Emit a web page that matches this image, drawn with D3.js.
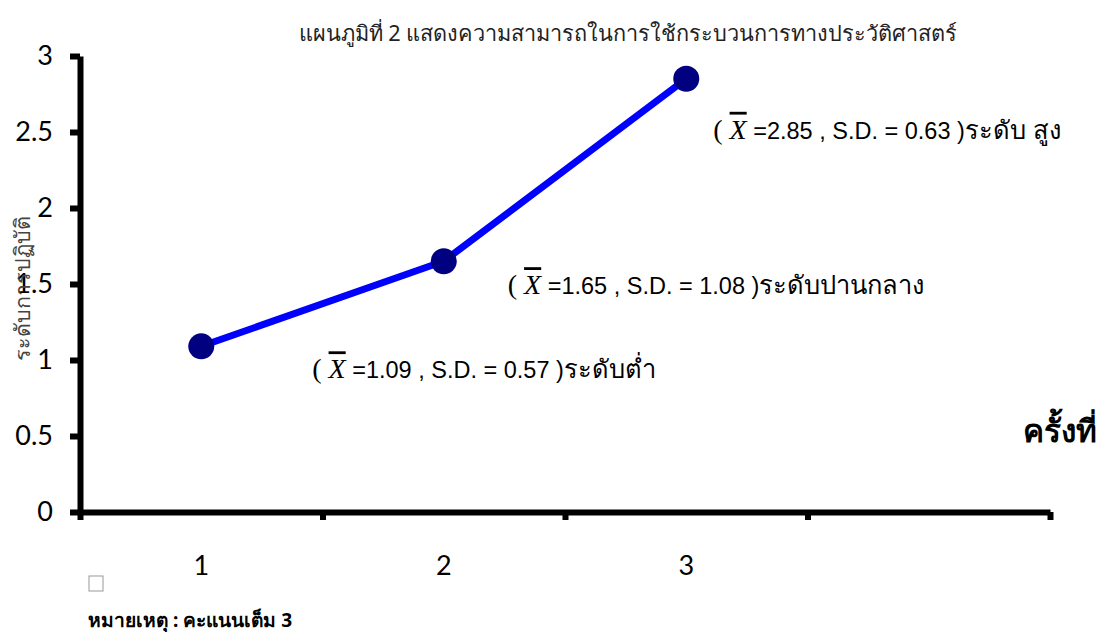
<!DOCTYPE html>
<html><head><meta charset="utf-8">
<script src="https://cdn.jsdelivr.net/npm/d3@7"></script>
<style>body{margin:0;background:#fff;} svg{display:block;}</style>
</head><body><div id="chart"></div>
<script>
const categories = ["1", "2", "3", ""];
const means = [1.09, 1.65, 2.85];
const sds = [0.57, 1.08, 0.63];
const levels = ["ระดับต่ำ", "ระดับปานกลาง", "ระดับ สูง"];
const yTicks = [0, 0.5, 1, 1.5, 2, 2.5, 3];
const title = "แผนภูมิที่ 2 แสดงความสามารถในการใช้กระบวนการทางประวัติศาสตร์";
const yTitle = "ระดับการปฏิบัติ";
const xTitle = "ครั้งที่";
const note = "หมายเหตุ : คะแนนเต็ม  3";

// label offsets (layout only)
const labelOffsets = [[111, 32], [64, 33], [27, 60]];

const W = 1101, H = 632;
const svg = d3.select("#chart").append("svg").attr("width", W).attr("height", H);

const x0 = 80, x1 = 1050, yTop = 56, yBot = 512;
const xEdge = d3.scaleLinear().domain([0, categories.length]).range([x0, x1]);
const xBand = d3.scaleBand().domain(categories.map((c, i) => i)).range([x0, x1]).padding(0);
const y = d3.scaleLinear().domain([0, 3]).range([yBot, yTop]);

// title
svg.append("text").attr("x", 628).attr("y", 41).attr("text-anchor", "middle")
  .attr("font-family", "'Noto Sans', sans-serif").attr("font-size", 21.7).attr("fill", "#222")
  .text(title);

// y axis
const yAxis = svg.append("g").attr("transform", `translate(${x0},0)`)
  .call(d3.axisLeft(y).tickValues(yTicks).tickFormat(d3.format("")).tickSize(10).tickSizeOuter(0).tickPadding(17));
yAxis.select(".domain").attr("stroke", "#000").attr("stroke-width", 6);
yAxis.selectAll(".tick line").attr("stroke", "#000").attr("stroke-width", 6);
yAxis.selectAll(".tick text").attr("font-family", "Lato, 'Open Sans', sans-serif").attr("font-size", 27).attr("fill", "#000");

// x axis ticks
const xAxis = svg.append("g").attr("transform", `translate(0,${yBot})`)
  .call(d3.axisBottom(xEdge).tickValues(d3.range(categories.length + 1)).tickFormat("").tickSize(8).tickSizeOuter(0));
xAxis.select(".domain").attr("stroke", "#000").attr("stroke-width", 6);
xAxis.selectAll(".tick line").attr("stroke", "#000").attr("stroke-width", 6);

// x category labels
const xLab = svg.append("g").attr("transform", `translate(0,${yBot})`)
  .call(d3.axisBottom(xBand).tickFormat(i => categories[i]).tickSize(0).tickPadding(44));
xLab.select(".domain").remove();
xLab.selectAll(".tick text").attr("font-family", "Lato, 'Open Sans', sans-serif").attr("font-size", 27).attr("fill", "#000");

// y title
svg.append("text").attr("transform", "translate(30,288) rotate(-90)").attr("text-anchor", "middle")
  .attr("font-family", "'Noto Sans', sans-serif").attr("font-size", 21.5).attr("fill", "#444")
  .text(yTitle);

// x title
svg.append("text").attr("x", 1023).attr("y", 442)
  .attr("font-family", "'Noto Sans', sans-serif").attr("font-size", 31.5).attr("font-weight", "bold").attr("fill", "#000")
  .text(xTitle);

// line
const cx = i => xBand(i) + xBand.bandwidth() / 2;
const line = d3.line().x((d, i) => cx(i)).y(d => y(d));
svg.append("path").datum(means).attr("d", line).attr("fill", "none")
  .attr("stroke", "#0000ff").attr("stroke-width", 7);
svg.selectAll("circle.pt").data(means).join("circle").attr("class", "pt")
  .attr("cx", (d, i) => cx(i)).attr("cy", d => y(d)).attr("r", 13).attr("fill", "#000080");

// annotations
const ann = svg.selectAll("text.ann").data(means).join("text").attr("class", "ann")
  .attr("x", (d, i) => cx(i) + labelOffsets[i][0]).attr("y", (d, i) => y(d) + labelOffsets[i][1])
  .attr("font-family", "'Liberation Sans', Arial, sans-serif").attr("font-size", 23.5).attr("fill", "#000");
ann.append("tspan").attr("font-family", "'Liberation Serif', serif").attr("font-size", 28).text("( ");
ann.append("tspan").attr("font-family", "'Liberation Serif', serif").attr("font-style", "italic").attr("font-size", 28)
  .style("text-decoration", "overline").text("X");
ann.append("tspan").text((d, i) => ` =${d.toFixed(2)} , S.D. = ${sds[i].toFixed(2)} )`);
ann.append("tspan").attr("font-size", 25.5).text((d, i) => levels[i]);

// small box
svg.append("rect").attr("x", 89).attr("y", 576).attr("width", 14).attr("height", 15)
  .attr("fill", "none").attr("stroke", "#999").attr("stroke-width", 1);

// note
svg.append("text").attr("x", 88).attr("y", 627)
  .attr("font-family", "'Noto Sans', sans-serif").attr("font-size", 19.2).attr("font-weight", "bold").attr("fill", "#000")
  .text(note);
</script></body></html>
